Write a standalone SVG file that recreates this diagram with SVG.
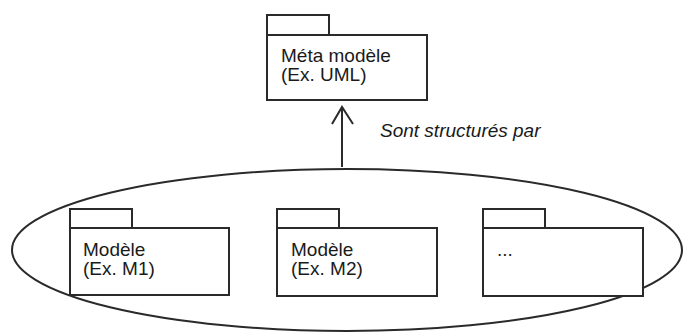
<svg xmlns="http://www.w3.org/2000/svg" width="684" height="334" viewBox="0 0 684 334">
<style>
.pk{fill:#fff;stroke:#2a2a2a;stroke-width:2}
.t{font-family:"Liberation Sans",Arial,sans-serif;font-size:19px;fill:#1a1a1a}
.c{fill:none;stroke:#2a2a2a;stroke-width:2}
</style>
<rect width="684" height="334" fill="#fff"/>
<ellipse cx="347" cy="250" rx="335" ry="81" class="c"/>
<g id="meta">
<rect class="pk" x="267" y="15" width="62" height="20"/>
<rect class="pk" x="267" y="35" width="160" height="65"/>
<text class="t" x="281" y="62">Méta modèle</text>
<text class="t" x="281" y="81">(Ex. UML)</text>
</g>
<g id="m1">
<rect class="pk" x="70" y="209" width="62" height="19"/>
<rect class="pk" x="70" y="228" width="159" height="67"/>
<text class="t" x="83" y="256">Modèle</text>
<text class="t" x="83" y="275">(Ex. M1)</text>
</g>
<g id="m2">
<rect class="pk" x="277" y="209" width="62" height="19"/>
<rect class="pk" x="277" y="228" width="160" height="68"/>
<text class="t" x="291" y="256">Modèle</text>
<text class="t" x="291" y="275">(Ex. M2)</text>
</g>
<g id="m3">
<rect class="pk" x="483" y="209" width="62" height="19"/>
<rect class="pk" x="483" y="228" width="160" height="68"/>
<text class="t" x="497" y="256">...</text>
</g>
<g id="connectors">
<line class="c" x1="342" y1="167" x2="342" y2="107"/>
<polyline class="c" points="332,124 342,107 353,124"/>
<text class="t" x="380" y="137" font-style="italic" font-size="21">Sont structurés par</text>
</g>
</svg>
